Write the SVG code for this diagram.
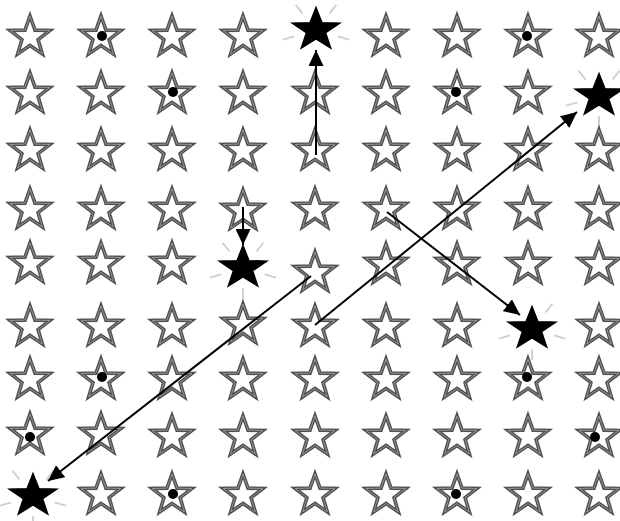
<svg xmlns="http://www.w3.org/2000/svg" xmlns:xlink="http://www.w3.org/1999/xlink" width="620" height="521" viewBox="0 0 620 521">
<style>
.so{fill:#fff;stroke:#505050;stroke-width:3.6;stroke-linejoin:miter}
.si{fill:none;stroke:#9a9a9a;stroke-width:0.9}
.sb{fill:#000;stroke:#000;stroke-width:1.2}
.ray{stroke:#cfcfcf;stroke-width:1.6}
.dot{fill:#000}
.ar{stroke:#000;stroke-width:2;fill:none;marker-end:url(#ah)}
</style>
<defs>
<path id="sp" d="M0,-21 L5,-6.88 L19.97,-6.49 L8.08,2.63 L12.34,16.99 L0,8.5 L-12.34,16.99 L-8.08,2.63 L-19.97,-6.49 L-5,-6.88 Z"/>
<g id="ws"><use href="#sp" class="so"/><use href="#sp" class="si"/></g>
<g id="bs">
<g transform="scale(1.2,1.07)">
<line class="ray" x1="11.2" y1="-15.4" x2="17" y2="-23.5"/>
<line class="ray" x1="18.1" y1="5.9" x2="27.6" y2="9"/>
<line class="ray" x1="0" y1="19" x2="0" y2="29"/>
<line class="ray" x1="-18.1" y1="5.9" x2="-27.6" y2="9"/>
<line class="ray" x1="-11.2" y1="-15.4" x2="-17" y2="-23.5"/>
<use href="#sp" class="sb"/>
</g>
</g>
<marker id="ah" markerWidth="17" markerHeight="15" refX="16" refY="7.5" orient="auto" markerUnits="userSpaceOnUse"><path d="M0,0 L16,7.5 L0,15 Z" fill="#000"/></marker>
</defs>
<rect width="620" height="521" fill="#fff"/>
<!-- row 1 -->
<g id="r1c1"><use href="#ws" x="30" y="37"/></g>
<g id="r1c2"><use href="#ws" x="101" y="37"/><circle class="dot" cx="102" cy="36" r="5"/></g>
<g id="r1c3"><use href="#ws" x="172" y="37"/></g>
<g id="r1c4"><use href="#ws" x="243" y="37"/></g>
<g id="r1c5"><use href="#bs" x="316" y="30"/></g>
<g id="r1c6"><use href="#ws" x="386" y="37"/></g>
<g id="r1c7"><use href="#ws" x="457" y="37"/></g>
<g id="r1c8"><use href="#ws" x="528" y="37"/><circle class="dot" cx="527" cy="36" r="5"/></g>
<g id="r1c9"><use href="#ws" x="599" y="37"/></g>
<!-- row 2 -->
<g id="r2c1"><use href="#ws" x="30" y="94"/></g>
<g id="r2c2"><use href="#ws" x="101" y="94"/></g>
<g id="r2c3"><use href="#ws" x="172" y="94"/><circle class="dot" cx="173" cy="92" r="5"/></g>
<g id="r2c4"><use href="#ws" x="243" y="94"/></g>
<g id="r2c5"><use href="#ws" x="315" y="94"/></g>
<g id="r2c6"><use href="#ws" x="386" y="94"/></g>
<g id="r2c7"><use href="#ws" x="457" y="94"/><circle class="dot" cx="456" cy="92" r="5"/></g>
<g id="r2c8"><use href="#ws" x="528" y="94"/></g>
<g id="r2c9"><use href="#bs" x="599" y="96"/></g>
<!-- row 3 -->
<g id="r3c1"><use href="#ws" x="30" y="151"/></g>
<g id="r3c2"><use href="#ws" x="101" y="151"/></g>
<g id="r3c3"><use href="#ws" x="172" y="151"/></g>
<g id="r3c4"><use href="#ws" x="243" y="151"/></g>
<g id="r3c5"><use href="#ws" x="315" y="151"/></g>
<g id="r3c6"><use href="#ws" x="386" y="151"/></g>
<g id="r3c7"><use href="#ws" x="457" y="151"/></g>
<g id="r3c8"><use href="#ws" x="528" y="151"/></g>
<g id="r3c9"><use href="#ws" x="599" y="151"/></g>
<!-- row 4 -->
<g id="r4c1"><use href="#ws" x="30" y="210"/></g>
<g id="r4c2"><use href="#ws" x="101" y="210"/></g>
<g id="r4c3"><use href="#ws" x="172" y="210"/></g>
<g id="r4c4"><use href="#ws" x="243" y="211"/></g>
<g id="r4c5"><use href="#ws" x="315" y="210"/></g>
<g id="r4c6"><use href="#ws" x="386" y="210"/></g>
<g id="r4c7"><use href="#ws" x="457" y="210"/></g>
<g id="r4c8"><use href="#ws" x="528" y="210"/></g>
<g id="r4c9"><use href="#ws" x="599" y="210"/></g>
<!-- row 5 -->
<g id="r5c1"><use href="#ws" x="30" y="264"/></g>
<g id="r5c2"><use href="#ws" x="101" y="264"/></g>
<g id="r5c3"><use href="#ws" x="172" y="264"/></g>
<g id="r5c4"><use href="#bs" x="243" y="268"/></g>
<g id="r5c5"><use href="#ws" x="315" y="273"/></g>
<g id="r5c6"><use href="#ws" x="386" y="265"/></g>
<g id="r5c7"><use href="#ws" x="457" y="265"/></g>
<g id="r5c8"><use href="#ws" x="528" y="265"/></g>
<g id="r5c9"><use href="#ws" x="599" y="265"/></g>
<!-- row 6 -->
<g id="r6c1"><use href="#ws" x="30" y="327"/></g>
<g id="r6c2"><use href="#ws" x="101" y="327"/></g>
<g id="r6c3"><use href="#ws" x="172" y="327"/></g>
<g id="r6c4"><use href="#ws" x="243" y="325"/></g>
<g id="r6c5"><use href="#ws" x="315" y="327"/></g>
<g id="r6c6"><use href="#ws" x="386" y="327"/></g>
<g id="r6c7"><use href="#ws" x="457" y="327"/></g>
<g id="r6c8"><use href="#bs" x="532" y="329"/></g>
<g id="r6c9"><use href="#ws" x="599" y="327"/></g>
<!-- row 7 -->
<g id="r7c1"><use href="#ws" x="30" y="380"/></g>
<g id="r7c2"><use href="#ws" x="101" y="380"/><circle class="dot" cx="102" cy="377" r="5"/></g>
<g id="r7c3"><use href="#ws" x="172" y="380"/></g>
<g id="r7c4"><use href="#ws" x="243" y="380"/></g>
<g id="r7c5"><use href="#ws" x="315" y="380"/></g>
<g id="r7c6"><use href="#ws" x="386" y="380"/></g>
<g id="r7c7"><use href="#ws" x="457" y="380"/></g>
<g id="r7c8"><use href="#ws" x="528" y="380"/><circle class="dot" cx="527" cy="377" r="5"/></g>
<g id="r7c9"><use href="#ws" x="599" y="380"/></g>
<!-- row 8 -->
<g id="r8c1"><use href="#ws" x="30" y="435"/><circle class="dot" cx="30" cy="437" r="5"/></g>
<g id="r8c2"><use href="#ws" x="101" y="435"/></g>
<g id="r8c3"><use href="#ws" x="172" y="437"/></g>
<g id="r8c4"><use href="#ws" x="243" y="437"/></g>
<g id="r8c5"><use href="#ws" x="315" y="437"/></g>
<g id="r8c6"><use href="#ws" x="386" y="437"/></g>
<g id="r8c7"><use href="#ws" x="457" y="437"/></g>
<g id="r8c8"><use href="#ws" x="528" y="437"/></g>
<g id="r8c9"><use href="#ws" x="599" y="437"/><circle class="dot" cx="595" cy="437" r="5"/></g>
<!-- row 9 -->
<g id="r9c1"><use href="#bs" x="33" y="496"/></g>
<g id="r9c2"><use href="#ws" x="101" y="495"/></g>
<g id="r9c3"><use href="#ws" x="172" y="495"/><circle class="dot" cx="173" cy="494" r="5"/></g>
<g id="r9c4"><use href="#ws" x="243" y="495"/></g>
<g id="r9c5"><use href="#ws" x="315" y="495"/></g>
<g id="r9c6"><use href="#ws" x="386" y="495"/></g>
<g id="r9c7"><use href="#ws" x="457" y="495"/><circle class="dot" cx="456" cy="494" r="5"/></g>
<g id="r9c8"><use href="#ws" x="528" y="495"/></g>
<g id="r9c9"><use href="#ws" x="599" y="495"/></g>
<g id="connectors">
<line class="ar" x1="316" y1="155" x2="316" y2="50"/>
<line class="ar" x1="243" y1="207" x2="243" y2="245"/>
<line class="ar" x1="315" y1="325" x2="577" y2="112"/>
<line class="ar" x1="387" y1="212" x2="520" y2="315"/>
<line class="ar" x1="311" y1="276" x2="48" y2="481"/>
</g>
</svg>
